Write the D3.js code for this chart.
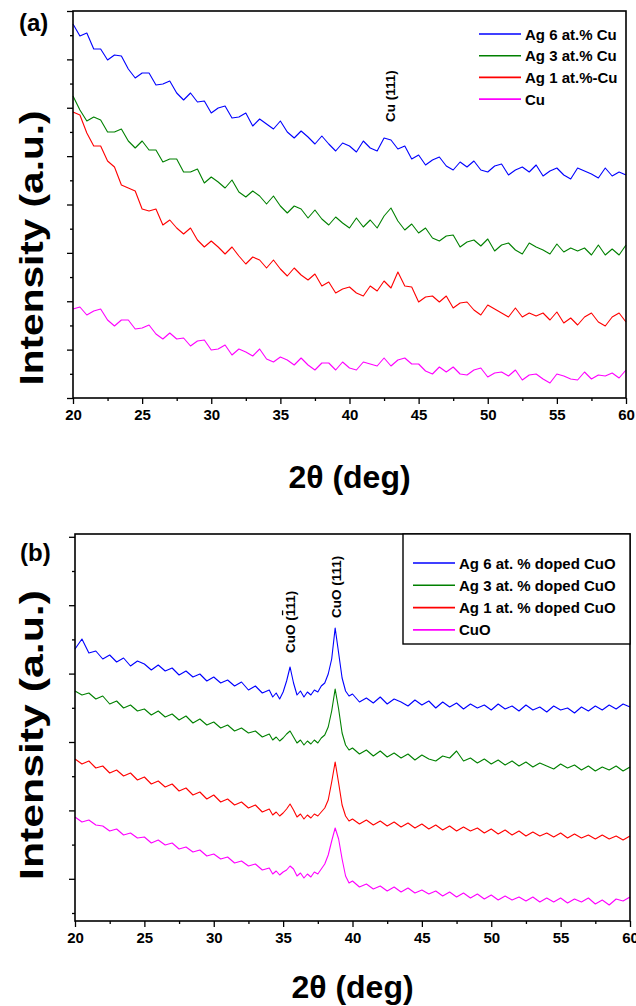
<!DOCTYPE html>
<html>
<head>
<meta charset="utf-8">
<script src="https://cdn.jsdelivr.net/npm/d3@7"></script>
<style>
  body { margin: 0; background: #fff; }
  text { font-family: "Liberation Sans", Arial, sans-serif; font-weight: bold; fill: #000; }
</style>
</head>
<body>
<div id="chart"></div>
<script>
// ---- data (intensity in arbitrary units) ----

// panel (a): 2theta grid every 0.5 deg
var thetaA = d3.range(20, 60.001, 0.5);

var ag6Cu = [374,362,365,349,349,338,343,342,329,320,325,325,313,314,317,305,298,305,296,297,
  285,290,292,280,281,285,272,279,274,269,277,266,260,267,261,254,262,254,247,255,
  252,246,257,250,247,260,258,249,252,239,243,233,238,241,232,228,236,231,237,228,
  226,232,234,223,228,231,226,233,222,227,230,223,219,230,227,224,220,230,222,226,223];

var ag3Cu = [302,288,277,281,278,266,266,269,257,250,257,248,248,236,239,239,226,226,229,215,
  221,216,210,218,206,201,207,202,194,202,192,185,192,189,180,188,179,173,181,175,
  170,180,171,178,170,182,190,177,168,174,165,170,160,157,162,163,151,156,158,152,
  159,147,153,155,148,144,155,151,148,144,154,146,150,147,150,143,153,143,149,143,153];

var ag1Cu = [286,283,265,252,252,237,231,213,210,207,189,187,189,173,178,170,164,170,158,151,
  157,151,144,151,142,134,141,138,130,138,129,122,130,123,118,124,112,116,105,109,
  111,105,102,112,107,117,110,126,112,111,96,101,102,96,102,90,95,96,88,83,
  93,89,85,81,90,81,85,82,85,78,86,75,80,73,81,85,76,72,81,85,76];

var pureCu = [89,91,83,87,89,78,72,78,78,69,70,73,64,59,65,59,60,52,57,58,
  48,49,53,43,49,46,42,49,39,36,41,38,33,40,33,28,35,35,28,36,
  30,28,36,34,32,40,32,38,40,34,34,27,24,31,26,31,24,23,28,30,
  21,25,26,22,28,18,23,24,19,15,24,22,19,18,26,19,23,22,25,20,28];

// panel (b): finer grid around the CuO peaks
var thetaB = d3.range(20, 34.001, 0.5)
  .concat(d3.range(34.25, 40.001, 0.25))
  .concat(d3.range(40.5, 60.001, 0.5));

var ag6CuO = [272,282,268,270,262,266,259,263,255,260,257,251,256,250,253,246,250,244,247,240,
  244,238,241,235,239,231,235,228,231,
  224,228,222,229,240,254,238,226,230,224,229,226,231,229,235,238,247,262,293,268,243,230,225,227,
  219,223,218,224,217,222,219,215,221,216,220,213,219,214,218,212,217,213,216,211,
  217,212,215,210,216,211,214,209,215,211,213,208,214,210,215,211,216,212,217,214];

var ag3CuO = [230,226,228,222,225,217,220,213,216,210,212,206,210,204,207,201,205,198,202,196,
  199,193,196,190,193,188,190,184,187,
  181,184,180,183,187,190,184,178,181,176,180,177,181,178,183,186,194,210,232,212,188,176,171,173,
  167,171,165,170,164,168,163,167,161,166,162,160,165,163,170,160,163,158,162,157,
  161,156,160,155,159,154,158,155,152,157,153,156,151,155,150,154,151,155,150,154];

var ag1CuO = [162,157,160,153,155,148,151,145,148,141,144,137,140,134,137,130,133,126,129,122,
  126,119,122,116,119,113,116,109,112,
  106,109,105,108,112,117,111,104,107,102,106,103,107,105,109,113,121,139,159,138,116,105,100,102,
  97,101,96,100,95,99,94,98,93,97,92,96,91,95,90,94,90,93,88,92,
  87,91,86,90,85,89,85,88,84,88,83,87,83,86,82,86,82,85,81,85];

var pureCuO = [104,99,101,96,95,90,92,86,88,83,84,78,81,76,78,72,74,69,71,65,
  67,62,64,58,60,55,57,51,53,
  47,50,46,49,51,55,52,45,48,43,47,44,49,47,52,57,66,80,93,82,62,45,38,40,
  34,37,32,35,30,34,29,33,28,31,27,30,25,29,24,28,23,27,22,26,
  21,25,21,24,20,24,19,23,19,23,18,22,19,23,17,21,16,22,20,24];

var xTicks = [20, 25, 30, 35, 40, 45, 50, 55, 60];
var xMinor = [22.5, 27.5, 32.5, 37.5, 42.5, 47.5, 52.5, 57.5];

var colors = ["#0000ff", "#008000", "#ff0000", "#ff00ff"];
var namesA = ["Ag 6 at.% Cu", "Ag 3 at.% Cu", "Ag 1 at.%-Cu", "Cu"];
var namesB = ["Ag 6 at. % doped CuO", "Ag 3 at. % doped CuO", "Ag 1 at. % doped CuO", "CuO"];

var svg = d3.select("#chart").append("svg")
  .attr("width", 636)
  .attr("height", 1006);

function drawPanel(opt) {
  var x = d3.scaleLinear().domain([20, 60]).range([opt.left, opt.right]);
  var y = d3.scaleLinear().domain([0, 387]).range([opt.bottom, opt.top]);
  var g = svg.append("g");

  // curves
  opt.series.forEach(function(s, i) {
    var line = d3.line()
      .x(function(d, j) { return x(opt.theta[j]); })
      .y(function(d) { return y(d); });
    g.append("path")
      .datum(s)
      .attr("fill", "none")
      .attr("stroke", colors[i])
      .attr("stroke-width", 1.1)
      .attr("stroke-linejoin", "round")
      .attr("d", line);
  });

  // axes
  var xAxis = g.append("g")
    .attr("transform", "translate(0," + opt.bottom + ")")
    .call(d3.axisBottom(x).tickValues(xTicks).tickSize(6).tickPadding(5).tickFormat(d3.format("d")));
  g.append("g")
    .attr("transform", "translate(0," + opt.bottom + ")")
    .call(d3.axisBottom(x).tickValues(xMinor).tickSize(3).tickFormat(""));
  xAxis.selectAll("text").style("font-size", "15px").style("font-family", "Liberation Sans").style("font-weight", "bold");

  g.append("g")
    .attr("transform", "translate(" + opt.left + ",0)")
    .call(d3.axisLeft(y).tickValues(opt.yMajor).tickSize(6).tickFormat(""));
  g.append("g")
    .attr("transform", "translate(" + opt.left + ",0)")
    .call(d3.axisLeft(y).tickValues(opt.yMinor).tickSize(3).tickFormat(""));

  g.selectAll(".domain").remove();
  g.selectAll(".tick line").attr("stroke", "#000").attr("stroke-width", 1.3);

  // frame
  g.append("rect")
    .attr("x", opt.left).attr("y", opt.top)
    .attr("width", opt.right - opt.left).attr("height", opt.bottom - opt.top)
    .attr("fill", "none").attr("stroke", "#000").attr("stroke-width", 1.6);

  // axis titles
  g.append("text")
    .attr("transform", "translate(" + opt.ylabX + "," + opt.ylabY + ") rotate(-90)")
    .attr("text-anchor", "middle")
    .attr("textLength", opt.ylabLen)
    .attr("lengthAdjust", "spacingAndGlyphs")
    .style("font-size", "33px")
    .text("Intensity (a.u.)");
  g.append("text")
    .attr("x", x(40)).attr("y", opt.xlabY)
    .attr("text-anchor", "middle")
    .style("font-size", "32px")
    .text("2\u03b8 (deg)");

  g.append("text")
    .attr("x", opt.tagX).attr("y", opt.tagY)
    .style("font-size", "24px")
    .text(opt.tag);

  // legend
  if (opt.legendBox) {
    g.append("rect")
      .attr("x", opt.legendBox[0]).attr("y", opt.legendBox[1])
      .attr("width", opt.legendBox[2]).attr("height", opt.legendBox[3])
      .attr("fill", "#fff").attr("stroke", "#000").attr("stroke-width", 1.4);
  }
  opt.names.forEach(function(n, i) {
    var ly = opt.legY + i * opt.legStep;
    g.append("line")
      .attr("x1", opt.legX).attr("x2", opt.legX + 42)
      .attr("y1", ly).attr("y2", ly)
      .attr("stroke", colors[i]).attr("stroke-width", 1.6);
    g.append("text")
      .attr("x", opt.legX + 46).attr("y", ly + 5.5)
      .style("font-size", "15px")
      .text(n);
  });

  // peak labels (rotated); bar over one character when asked
  opt.peaks.forEach(function(p) {
    var pg = g.append("g")
      .attr("transform", "translate(" + (x(p.at) + 5) + "," + p.y + ") rotate(-90)");
    var t = pg.append("text")
      .style("font-size", "13.5px")
      .text(p.label);
    if (p.bar != null) {
      var node = t.node();
      var x0 = node.getSubStringLength(0, p.bar);
      var w = node.getSubStringLength(p.bar, 1);
      pg.append("line")
        .attr("x1", x0 + 1).attr("x2", x0 + w - 1)
        .attr("y1", -12.5).attr("y2", -12.5)
        .attr("stroke", "#000").attr("stroke-width", 1.3);
    }
  });
}

drawPanel({
  left: 73, right: 626, top: 11, bottom: 398,
  theta: thetaA, series: [ag6Cu, ag3Cu, ag1Cu, pureCu],
  yMajor: d3.range(0, 388, 387 / 8), yMinor: d3.range(387 / 16, 387, 387 / 8),
  ylabX: 43, ylabY: 248, ylabLen: 275, xlabY: 488,
  tag: "(a)", tagX: 19, tagY: 31,
  names: namesA, legX: 479, legY: 34, legStep: 21.7,
  peaks: [{ at: 42.9, y: 122, label: "Cu (111)" }]
});

drawPanel({
  left: 75, right: 630, top: 534, bottom: 921,
  theta: thetaB, series: [ag6CuO, ag3CuO, ag1CuO, pureCuO],
  yMajor: d3.range(42.2, 387, 68.4), yMinor: d3.range(8, 387, 68.4),
  ylabX: 43, ylabY: 735, ylabLen: 290, xlabY: 998,
  tag: "(b)", tagX: 20, tagY: 561,
  names: namesB, legX: 413, legY: 563, legStep: 22.3,
  legendBox: [403, 534, 227, 110],
  peaks: [{ at: 35.5, y: 653, label: "CuO (111)", bar: 5 }, { at: 38.8, y: 618, label: "CuO (111)" }]
});
</script>
</body>
</html>
